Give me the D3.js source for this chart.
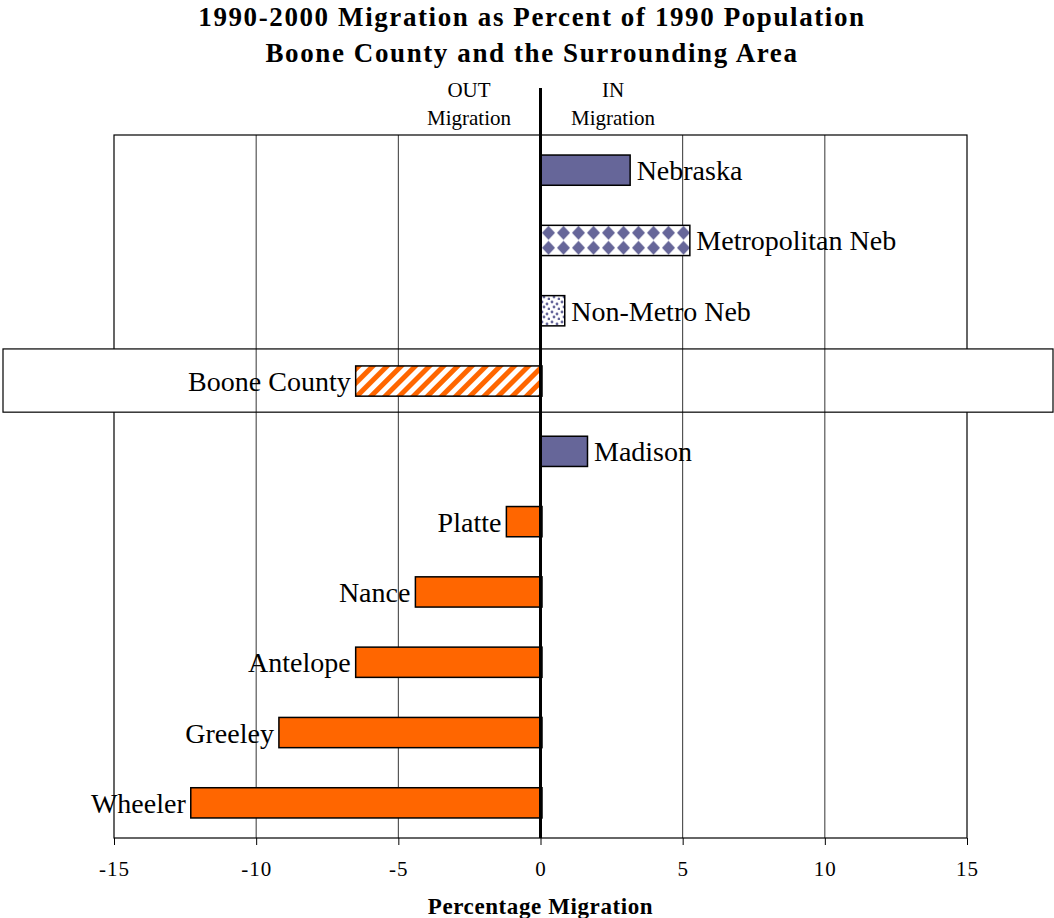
<html>
<head>
<meta charset="utf-8">
<title>Migration</title>
<script src="https://d3js.org/d3.v7.min.js"></script>
<style>
body { margin: 0; background: white; }
text { font-family: "Liberation Serif", "Times New Roman", serif; }
</style>
</head>
<body>
<svg width="1054" height="918"></svg>
<script>
// data
var places = ["Nebraska", "Metropolitan Neb", "Non-Metro Neb", "Boone County", "Madison",
              "Platte", "Nance", "Antelope", "Greeley", "Wheeler"];
var migration = [3.1, 5.2, 0.8, -6.5, 1.6, -1.2, -4.4, -6.5, -9.2, -12.3];
var fills = ["solid-p", "diamond", "dots", "stripe", "solid-p", "solid-o", "solid-o", "solid-o", "solid-o", "solid-o"];
var xTicks = [-15, -10, -5, 0, 5, 10, 15];
var titleLines = ["1990-2000 Migration as Percent of 1990 Population", "Boone County and the Surrounding Area"];

var purple = "#666699", orange = "#ff6600";
var svg = d3.select("svg");
var pLeft = 114, pRight = 967, pTop = 135, pBottom = 838;

var x = d3.scaleLinear().domain([-15, 15]).range([pLeft, pRight]);
var y = d3.scaleBand().domain(places).range([pTop, pBottom]).paddingInner(0.57).paddingOuter(0.285);

// patterns
var defs = svg.append("defs");
var pd = defs.append("pattern").attr("id", "diamond").attr("patternUnits", "userSpaceOnUse")
  .attr("width", 15).attr("height", 15).attr("x", 541).attr("y", y("Metropolitan Neb"));
pd.append("rect").attr("width", 15).attr("height", 15).attr("fill", "white");
pd.append("path").attr("d", "M7.5,0.5 L14,7.5 L7.5,14.5 L1,7.5 Z").attr("fill", purple);

var pdots = defs.append("pattern").attr("id", "dots").attr("patternUnits", "userSpaceOnUse")
  .attr("width", 10).attr("height", 10);
pdots.append("rect").attr("width", 10).attr("height", 10).attr("fill", "white");
[[2, 2], [7, 4], [4, 7], [9, 9]].forEach(function(p) {
  pdots.append("circle").attr("cx", p[0]).attr("cy", p[1]).attr("r", 1.4).attr("fill", purple);
});

var ps = defs.append("pattern").attr("id", "stripe").attr("patternUnits", "userSpaceOnUse")
  .attr("width", 10).attr("height", 10).attr("patternTransform", "rotate(45)");
ps.append("rect").attr("width", 10).attr("height", 10).attr("fill", "white");
ps.append("rect").attr("width", 5).attr("height", 10).attr("fill", orange);

function fillOf(f) {
  if (f == "solid-p") return purple;
  if (f == "solid-o") return orange;
  return "url(#" + f + ")";
}

// plot frame and gridlines
svg.append("rect").attr("x", pLeft).attr("y", pTop).attr("width", pRight - pLeft).attr("height", pBottom - pTop)
  .attr("fill", "none").attr("stroke", "black").attr("stroke-width", 1.2);
svg.append("g").selectAll("line").data([-10, -5, 5, 10]).enter().append("line")
  .attr("x1", d => x(d)).attr("x2", d => x(d)).attr("y1", pTop).attr("y2", pBottom)
  .attr("stroke", "black").attr("stroke-width", 0.8);

// highlight box around Boone County
var by = y("Boone County");
svg.append("rect").attr("x", 3).attr("y", by - 17).attr("width", 1050)
  .attr("height", y.bandwidth() + 33).attr("fill", "white").attr("stroke", "black").attr("stroke-width", 1.2);
svg.append("g").selectAll("line").data([-10, -5, 5, 10]).enter().append("line")
  .attr("x1", d => x(d)).attr("x2", d => x(d)).attr("y1", by - 17)
  .attr("y2", by + y.bandwidth() + 16).attr("stroke", "black").attr("stroke-width", 0.8);

// bars
var rows = places.map((p, i) => ({ name: p, v: migration[i], f: fills[i] }));
svg.append("g").selectAll("rect").data(rows).enter().append("rect")
  .attr("x", d => d.v >= 0 ? x(0) : x(d.v))
  .attr("y", d => y(d.name))
  .attr("width", d => Math.abs(x(d.v) - x(0)) + 1.5)
  .attr("height", y.bandwidth())
  .attr("fill", d => fillOf(d.f))
  .attr("stroke", "black").attr("stroke-width", 1.5);

// bar labels
svg.append("g").selectAll("text").data(rows).enter().append("text")
  .attr("x", d => d.v >= 0 ? x(d.v) + 8 : x(d.v) - 5)
  .attr("y", d => y(d.name) + y.bandwidth() / 2 + 10)
  .attr("text-anchor", d => d.v >= 0 ? "start" : "end")
  .style("font-size", "28px")
  .text(d => d.name);

// zero line
svg.append("line").attr("x1", x(0)).attr("x2", x(0)).attr("y1", 88).attr("y2", pBottom)
  .attr("stroke", "black").attr("stroke-width", 3);

// x axis
var ax = svg.append("g").attr("transform", "translate(0," + pBottom + ")")
  .call(d3.axisBottom(x).tickValues(xTicks).tickSize(7).tickPadding(16).tickFormat(d => String(d)));
ax.select(".domain").remove();
ax.selectAll("line").attr("stroke", "black");
ax.selectAll("text").style("font-family", "Liberation Serif, serif").style("font-size", "21px")
  .style("letter-spacing", "1px").attr("fill", "black");

svg.append("text").attr("x", x(0)).attr("y", 914).attr("text-anchor", "middle")
  .style("font-size", "23px").style("font-weight", "bold").style("letter-spacing", "0.6px")
  .text("Percentage Migration");

// titles
svg.selectAll(".title").data(titleLines).enter().append("text")
  .attr("class", "title")
  .attr("x", 532).attr("y", (d, i) => 26 + i * 36).attr("text-anchor", "middle")
  .style("font-size", "27px").style("font-weight", "bold").style("letter-spacing", "1.6px")
  .text(d => d);

// OUT / IN labels
[["OUT", "Migration", 469], ["IN", "Migration", 613]].forEach(function(t) {
  svg.append("text").attr("x", t[2]).attr("y", 97).attr("text-anchor", "middle").style("font-size", "21px").text(t[0]);
  svg.append("text").attr("x", t[2]).attr("y", 125).attr("text-anchor", "middle").style("font-size", "21px").text(t[1]);
});
</script>
</body>
</html>
